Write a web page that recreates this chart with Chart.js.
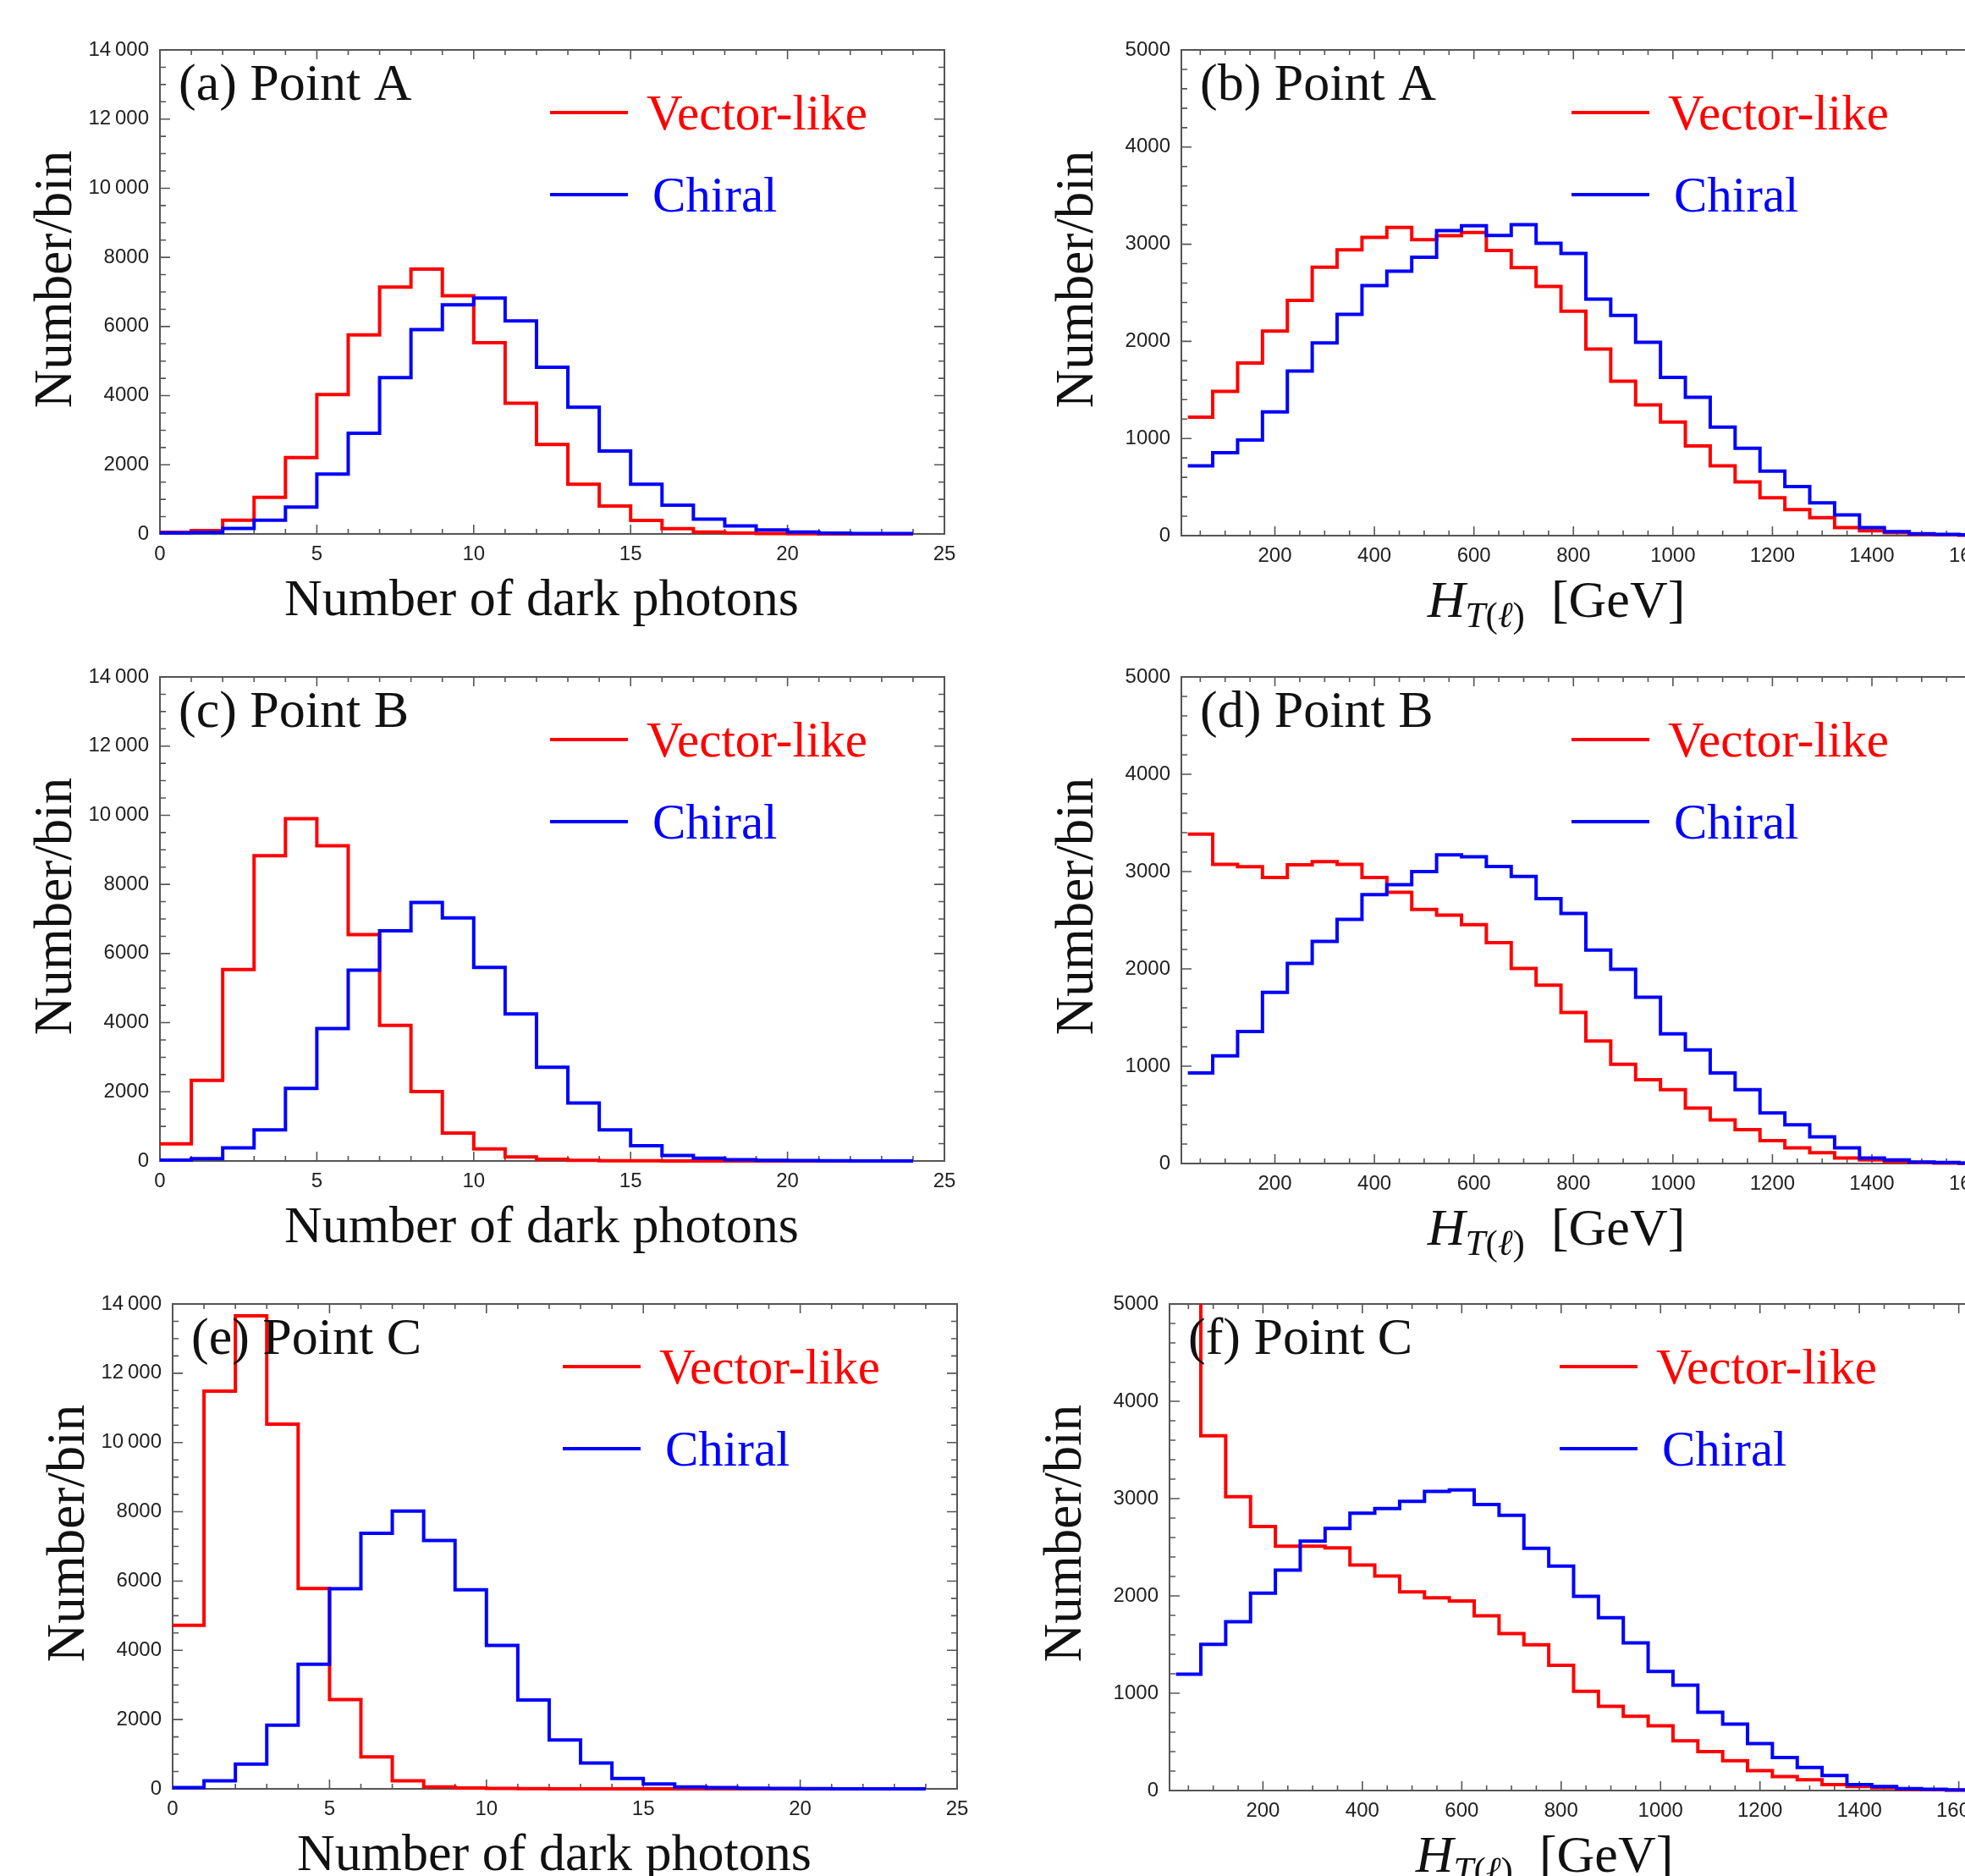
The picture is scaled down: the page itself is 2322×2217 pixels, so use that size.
<!DOCTYPE html>
<html>
<head>
<meta charset="utf-8">
<script src="https://cdn.jsdelivr.net/npm/chart.js@4.4.1/dist/chart.umd.min.js"></script>
<style>
html, body { margin: 0; padding: 0; width: 2322px; height: 2217px; overflow: hidden; background: #fff; }
canvas { position: absolute; }
</style>
</head>
<body>
<canvas id="pa"></canvas>
<canvas id="pb"></canvas>
<canvas id="pc"></canvas>
<canvas id="pd"></canvas>
<canvas id="pe"></canvas>
<canvas id="pf"></canvas>
<script>
// ---------- categories (bin edges) ----------
const photonEdges = [0, 1, 2, 3, 4, 5, 6, 7, 8, 9, 10, 11, 12, 13, 14, 15, 16, 17, 18, 19, 20, 21, 22, 23, 24];
const htEdges = [25, 75, 125, 175, 225, 275, 325, 375, 425, 475, 525, 575, 625, 675, 725, 775, 825, 875, 925, 975,
                 1025, 1075, 1125, 1175, 1225, 1275, 1325, 1375, 1425, 1475, 1525, 1575, 1625];

// ---------- tick labels ----------
const photonXLabels = [0, 5, 10, 15, 20, 25];
const htXLabels = [200, 400, 600, 800, 1000, 1200, 1400, 1600];
const countYLabels14k = [0, 2000, 4000, 6000, 8000, 10000, 12000, 14000];
const countYLabels5k = [0, 1000, 2000, 3000, 4000, 5000];

// ---------- series: number of dark photons ----------
const vecA_nph = [50, 100, 400, 1060, 2210, 4030, 5760, 7140, 7660, 6890, 5530, 3780, 2590, 1440, 807, 392, 150, 58, 25, 10, 5, 3, 2, 1];
const chiA_nph = [30, 45, 160, 400, 780, 1730, 2915, 4520, 5910, 6625, 6820, 6160, 4820, 3665, 2400, 1440, 830, 426, 230, 115, 58, 25, 15, 10];
const vecB_nph = [496, 2330, 5540, 8830, 9900, 9120, 6545, 3924, 2008, 808, 346, 115, 46, 20, 8, 5, 3, 2, 1, 1, 0, 0, 0, 0];
const chiB_nph = [23, 70, 380, 900, 2100, 3830, 5517, 6660, 7480, 7030, 5600, 4250, 2710, 1675, 900, 440, 160, 80, 35, 20, 10, 5, 3, 2];
const vecC_nph = [4724, 11483, 13655, 10530, 5782, 2575, 920, 230, 57, 23, 10, 5, 3, 2, 1, 1, 0, 0, 0, 0, 0, 0, 0, 0];
const chiC_nph = [35, 230, 713, 1840, 3600, 5780, 7380, 8020, 7170, 5750, 4140, 2563, 1414, 747, 300, 138, 57, 35, 20, 10, 5, 3, 2, 1];

// ---------- series: H_T(l) ----------
const vecA_ht = [1219, 1486, 1778, 2106, 2422, 2763, 2943, 3071, 3173, 3046, 3087, 3120, 2935, 2759, 2566, 2311, 1921, 1589, 1346, 1170, 924, 718, 554, 390, 267, 185, 82, 50, 30, 12, 8, 5];
const chiA_ht = [718, 854, 985, 1273, 1695, 1983, 2278, 2574, 2722, 2865, 3140, 3190, 3091, 3202, 3009, 2906, 2434, 2266, 1991, 1630, 1424, 1117, 899, 665, 505, 337, 213, 82, 41, 20, 12, 8];
const vecB_ht = [3385, 3074, 3049, 2939, 3070, 3102, 3074, 2939, 2787, 2611, 2553, 2455, 2270, 2004, 1832, 1553, 1258, 1020, 861, 758, 570, 447, 348, 234, 160, 111, 57, 37, 20, 10, 5, 3];
const chiB_ht = [930, 1107, 1357, 1758, 2057, 2283, 2508, 2762, 2865, 3000, 3172, 3152, 3053, 2951, 2721, 2570, 2193, 1996, 1709, 1332, 1168, 930, 758, 520, 398, 275, 160, 57, 37, 16, 10, 5];
const vecC_ht = [6500, 3645, 3020, 2714, 2510, 2510, 2494, 2318, 2204, 2041, 1980, 1947, 1796, 1612, 1498, 1286, 1020, 865, 763, 665, 510, 400, 306, 204, 143, 110, 61, 41, 29, 12, 8, 5];
const chiC_ht = [1196, 1502, 1735, 2029, 2265, 2563, 2694, 2849, 2898, 2971, 3073, 3090, 2939, 2829, 2490, 2306, 1996, 1776, 1518, 1224, 1082, 804, 682, 482, 339, 237, 155, 61, 41, 20, 12, 6];

const seriesNames = ['Vector-like', 'Chiral'];
const panelTags = ['(a) Point A', '(b) Point A', '(c) Point B', '(d) Point B', '(e) Point C', '(f) Point C'];

const RED = 'rgb(255,0,0)';
const BLUE = 'rgb(0,0,255)';
const SERIF = '"Liberation Serif", "DejaVu Serif", serif';

function fmtCount(v) {
  const s = String(v);
  return v >= 10000 ? s.slice(0, -3) + '\u2009' + s.slice(-3) : s;
}
function isMul(v, m) { const r = v / m; return Math.abs(r - Math.round(r)) < 1e-6; }

const framePlugin = {
  id: 'frame',
  beforeDatasetsDraw(chart, args, o) {
    const { ctx, chartArea: a, scales: { x, y } } = chart;
    ctx.save();
    ctx.strokeStyle = '#555';
    ctx.lineWidth = 2;
    ctx.strokeRect(a.left, a.top, a.right - a.left, a.bottom - a.top);
    ctx.lineWidth = 1.6;
    ctx.beginPath();
    x.ticks.forEach(t => {
      const px = x.getPixelForValue(t.value);
      if (px < a.left + 1 || px > a.right - 1) return;
      const len = isMul(t.value, o.xMajor) ? 11 : 6;
      ctx.moveTo(px, a.bottom); ctx.lineTo(px, a.bottom - len);
      ctx.moveTo(px, a.top); ctx.lineTo(px, a.top + len);
    });
    y.ticks.forEach(t => {
      const py = y.getPixelForValue(t.value);
      if (py < a.top + 1 || py > a.bottom - 1) return;
      const len = isMul(t.value, o.yMajor) ? 12 : 7;
      ctx.moveTo(a.left, py); ctx.lineTo(a.left + len, py);
      ctx.moveTo(a.right, py); ctx.lineTo(a.right - len, py);
    });
    ctx.stroke();
    ctx.restore();
  },
  afterDraw(chart, args, o) {
    const { ctx, chartArea: a } = chart;
    ctx.save();
    ctx.textBaseline = 'alphabetic';
    // panel tag
    ctx.fillStyle = '#111';
    ctx.textAlign = 'left';
    ctx.font = '62px ' + SERIF;
    ctx.fillText(o.tag, a.left + 22, a.top + 59);
    // legend (Vector-like first, then Chiral)
    const ds = chart.data.datasets;
    const legendItems = [ds.find(d => d.label === seriesNames[0]), ds.find(d => d.label === seriesNames[1])];
    legendItems.forEach((d, k) => {
      const ly = a.top + 74 + k * 97;
      ctx.strokeStyle = d.borderColor;
      ctx.lineWidth = 4;
      ctx.beginPath();
      ctx.moveTo(a.left + 461, ly); ctx.lineTo(a.left + 553, ly);
      ctx.stroke();
      ctx.fillStyle = d.borderColor;
      ctx.font = '59px ' + SERIF;
      ctx.fillText(d.label, a.left + 575 + k * 7, ly + 20);
    });
    // x title
    ctx.fillStyle = '#111';
    const by = a.bottom + 96;
    if (o.kind === 'nph') {
      ctx.font = '62px ' + SERIF;
      ctx.textAlign = 'center';
      ctx.fillText('Number of dark photons', a.left + 451, by);
    } else {
      const parts = [
        { t: 'H', f: 'italic 62px ' + SERIF, dy: 0 },
        { t: 'T', f: 'italic 43px ' + SERIF, dy: 12 },
        { t: '(', f: '43px ' + SERIF, dy: 12 },
        { t: '\u2113', f: 'italic 43px ' + SERIF, dy: 12 },
        { t: ')', f: '43px ' + SERIF, dy: 12 },
        { t: '  [GeV]', f: '62px ' + SERIF, dy: 0 }
      ];
      let total = 0;
      parts.forEach(p => { ctx.font = p.f; p.w = ctx.measureText(p.t).width; total += p.w; });
      let cx = a.left + 443 - total / 2;
      ctx.textAlign = 'left';
      parts.forEach(p => { ctx.font = p.f; ctx.fillText(p.t, cx, by + p.dy); cx += p.w; });
    }
    // y title
    ctx.translate(a.left - 105, a.top + 271);
    ctx.rotate(-Math.PI / 2);
    ctx.textAlign = 'center';
    ctx.font = '63px ' + SERIF;
    ctx.fillText('Number/bin', 0, 0);
    ctx.restore();
  }
};

const panels = [
  { id: 'pa', tag: panelTags[0], kind: 'nph', vec: vecA_nph, chi: chiA_nph, cv: { x: 0, y: 0, w: 1161, h: 780 }, yw: 189, top: 59, right: 45, xh: 149 },
  { id: 'pb', tag: panelTags[1], kind: 'ht', vec: vecA_ht, chi: chiA_ht, cv: { x: 1161, y: 0, w: 1210, h: 780 }, yw: 235, top: 59, right: 12, xh: 147 },
  { id: 'pc', tag: panelTags[2], kind: 'nph', vec: vecB_nph, chi: chiB_nph, cv: { x: 0, y: 740, w: 1161, h: 780 }, yw: 189, top: 60, right: 45, xh: 148 },
  { id: 'pd', tag: panelTags[3], kind: 'ht', vec: vecB_ht, chi: chiB_ht, cv: { x: 1161, y: 740, w: 1210, h: 780 }, yw: 235, top: 60, right: 12, xh: 145 },
  { id: 'pe', tag: panelTags[4], kind: 'nph', vec: vecC_nph, chi: chiC_nph, cv: { x: 0, y: 1480, w: 1161, h: 737 }, yw: 204, top: 61, right: 30, xh: 103 },
  { id: 'pf', tag: panelTags[5], kind: 'ht', vec: vecC_ht, chi: chiC_ht, cv: { x: 1161, y: 1480, w: 1210, h: 737 }, yw: 221, top: 61, right: 27, xh: 101 }
];

Chart.defaults.font.family = '"Liberation Sans", Arial, sans-serif';

panels.forEach(p => {
  const cv = document.getElementById(p.id);
  cv.width = p.cv.w; cv.height = p.cv.h;
  Object.assign(cv.style, { left: p.cv.x + 'px', top: p.cv.y + 'px', width: p.cv.w + 'px', height: p.cv.h + 'px' });
  const nph = p.kind === 'nph';
  const edges = nph ? photonEdges : htEdges;
  const xLabels = nph ? photonXLabels : htXLabels;
  const yLabels = nph ? countYLabels14k : countYLabels5k;
  const toPts = vals => vals.map((v, i) => ({ x: edges[i], y: v })).concat([{ x: edges[vals.length], y: vals[vals.length - 1] }]);
  const lineDs = (label, vals, color, order) => ({
    label, data: toPts(vals), borderColor: color, backgroundColor: color, borderWidth: 4,
    stepped: true, pointRadius: 0, fill: false, tension: 0, order,
    borderJoinStyle: 'miter', borderCapStyle: 'butt',
    clip: { left: 3, top: 0, right: 3, bottom: 3 }
  });
  new Chart(cv, {
    type: 'line',
    data: { datasets: [lineDs(seriesNames[0], p.vec, RED, 1), lineDs(seriesNames[1], p.chi, BLUE, 0)] },
    plugins: [framePlugin],
    options: {
      responsive: false, animation: false, devicePixelRatio: 1,
      layout: { padding: { top: p.top, right: p.right, left: 0, bottom: 0 } },
      plugins: {
        legend: { display: false }, tooltip: { enabled: false },
        frame: { tag: p.tag, kind: p.kind, xMajor: nph ? 5 : 200, yMajor: nph ? 2000 : 1000 }
      },
      scales: {
        x: {
          type: 'linear', min: nph ? 0 : 12, max: nph ? 25 : 1650,
          grid: { display: false, drawTicks: false }, border: { display: false },
          ticks: {
            stepSize: nph ? 1 : 50, autoSkip: false, maxRotation: 0, minRotation: 0, includeBounds: false,
            padding: 10, color: '#222', font: { size: 24 },
            callback: v => xLabels.includes(v) ? String(v) : ''
          },
          afterFit: s => { s.height = p.xh; }
        },
        y: {
          type: 'linear', min: 0, max: nph ? 14000 : 5000,
          grid: { display: false, drawTicks: false }, border: { display: false },
          ticks: {
            stepSize: nph ? 500 : 200, autoSkip: false, includeBounds: false,
            padding: 13, color: '#222', font: { size: 24 },
            callback: v => yLabels.includes(v) ? fmtCount(v) : ''
          },
          afterFit: s => { s.width = p.yw; }
        }
      }
    }
  });
});
</script>
</body>
</html>
